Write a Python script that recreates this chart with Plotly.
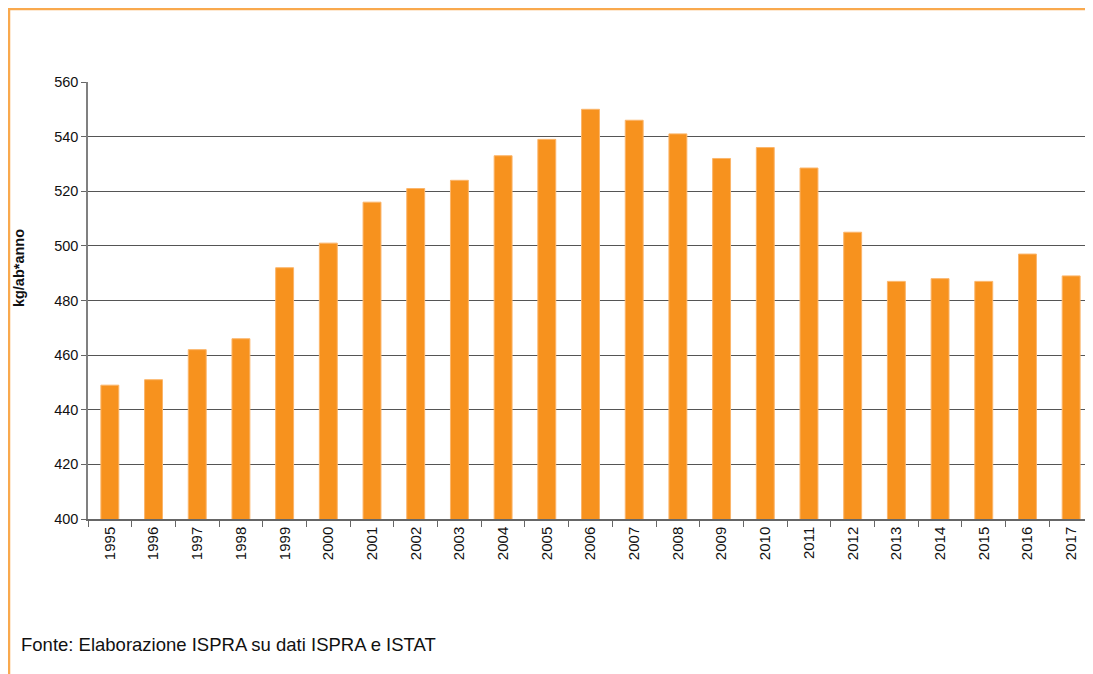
import plotly.graph_objects as go

years = [str(y) for y in range(1995, 2018)]
kg_per_inhabitant = [449, 451, 462, 466, 492, 501, 516, 521, 524, 533, 539, 550,
                     546, 541, 532, 536, 528.5, 505, 487, 488, 487, 497, 489]
y_ticks = [400, 420, 440, 460, 480, 500, 520, 540, 560]

BAR_COLOR = '#F7921E'
FONT = 'Liberation Sans, Arial, sans-serif'

fig = go.Figure()
fig.add_bar(x=years, y=kg_per_inhabitant,
            marker={'color': BAR_COLOR,
                    'line': {'color': '#FBB56A', 'width': 1}},
            showlegend=False)

# the page body adds 8px on the left and top, so the figure is a bit smaller
fig.update_layout(
    width=1085, height=666,
    margin={'l': 80, 'r': 0, 't': 74, 'b': 155},
    paper_bgcolor='white',
    plot_bgcolor='white',
    bargap=0.59,
    font={'family': FONT, 'size': 14, 'color': '#111'},
)

fig.update_xaxes(
    type='category',
    tickangle=-90,
    tickson='boundaries',
    ticks='outside', ticklen=6, tickcolor='#666',
    showline=True, linecolor='#666', linewidth=1.5,
    showgrid=False,
    tickfont={'size': 15, 'family': FONT},
)

fig.update_yaxes(
    range=[400, 560],
    tickvals=y_ticks,
    ticks='outside', ticklen=5, tickcolor='#666',
    showline=True, linecolor='#808080', linewidth=1.5,
    showgrid=True, gridcolor='#555', gridwidth=1,
    zeroline=False,
    tickfont={'size': 14.5, 'family': FONT},
)

fig.add_annotation(text='<b>kg/ab*anno</b>', textangle=-90,
                   xref='paper', yref='paper', x=-0.0687, y=0.574,
                   xanchor='center', yanchor='middle', showarrow=False,
                   font={'family': FONT, 'size': 14.5, 'color': '#111'})

# orange frame round the chart
fig.add_shape(type='rect', xref='paper', yref='paper',
              x0=-0.0786, x1=1.05, y0=-0.5, y1=1.167,
              line={'color': '#F9A94E', 'width': 2.5}, layer='below')

fig.add_annotation(text='Fonte: Elaborazione ISPRA su dati ISPRA e ISTAT',
                   xref='paper', yref='paper', x=-0.0687, y=-0.288,
                   xanchor='left', yanchor='middle', showarrow=False,
                   font={'family': FONT, 'size': 18.5, 'color': '#111'})

fig.write_html('out.html')
